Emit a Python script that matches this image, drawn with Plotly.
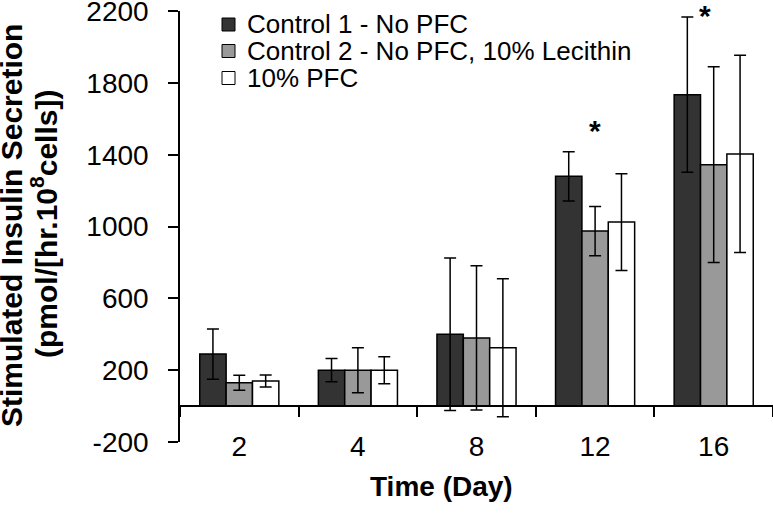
import plotly.graph_objects as go

days = ["2", "4", "8", "12", "16"]
series_names = ["Control 1 - No PFC", "Control 2 - No PFC, 10% Lecithin", "10% PFC"]
control1 = [290, 200, 400, 1280, 1735]
control1_err = [140, 65, 425, 137, 432]
control2 = [130, 200, 380, 975, 1345]
control2_err = [42, 125, 402, 137, 545]
pfc10 = [140, 200, 325, 1025, 1405]
pfc10_err = [33, 75, 385, 270, 550]
y_ticks = [-200, 200, 600, 1000, 1400, 1800, 2200]
y_ticktext = ["-200", "200", "600", "1000", "1400", "1800", "2200"]
sig_days = ["12", "16"]
sig_y = [1560, 2200]
sig_xshift = [0, -9]

colors = ["#333333", "#999999", "#ffffff"]
FONT = "Liberation Sans, Arial, sans-serif"

W, H = 773, 513
L, R, T, B = 180, 0, 11, 71
PW, PH = W - L - R, H - T - B


def px(xp):
    return (xp - L) / PW


def py(yp):
    return (H - B - yp) / PH


fig = go.Figure()
for name, vals, errs, col in zip(series_names, [control1, control2, pfc10],
                                 [control1_err, control2_err, pfc10_err], colors):
    fig.add_trace(go.Bar(
        x=days, y=vals, name=name,
        marker=dict(color=col, line=dict(color="black", width=1.5)),
        error_y=dict(type="data", array=errs, color="black", thickness=1.5, width=6),
        showlegend=False,
    ))

fig.update_layout(
    width=W, height=H,
    margin=dict(l=L, r=R, t=T, b=B, pad=0, autoexpand=False),
    paper_bgcolor="white", plot_bgcolor="white",
    barmode="group", bargap=0.333, bargroupgap=0,
    font=dict(family=FONT, color="black"),
)
fig.update_xaxes(
    type="category", range=[-0.5, len(days) - 0.5], autorange=False,
    anchor="free", position=200 / 2401, automargin=False,
    showline=True, linecolor="black", linewidth=1.5,
    ticks="outside", tickson="boundaries", ticklen=10, tickwidth=1.5, tickcolor="black",
    tickfont=dict(size=28, family=FONT, color="black"), tickangle=0,
    ticklabelstandoff=16, ticklabeloverflow="allow",
    showgrid=False, zeroline=False,
)
fig.update_yaxes(
    range=[-200, 2201], autorange=False, automargin=False,
    tickvals=y_ticks, ticktext=y_ticktext,
    showline=True, linecolor="black", linewidth=1.5,
    ticks="outside", ticklen=10, tickwidth=1.5, tickcolor="black",
    tickfont=dict(size=28, family=FONT, color="black"),
    ticklabelstandoff=14, ticklabeloverflow="allow",
    showgrid=False, zeroline=False,
)

ann = []
# axis titles
ann.append(dict(text="<b>Stimulated Insulin Secretion</b>", textangle=-90,
                xref="paper", yref="paper", x=px(12), y=py(225),
                xanchor="center", yanchor="middle", showarrow=False,
                font=dict(size=30, family=FONT, color="black")))
ann.append(dict(text="<b>(pmol/[hr.10<sup>8</sup>cells])</b>", textangle=-90,
                xref="paper", yref="paper", x=px(44), y=py(224),
                xanchor="center", yanchor="middle", showarrow=False,
                font=dict(size=30, family=FONT, color="black")))
ann.append(dict(text="<b>Time (Day)</b>",
                xref="paper", yref="paper", x=px(441), y=py(486),
                xanchor="center", yanchor="middle", showarrow=False,
                font=dict(size=28, family=FONT, color="black")))
# significance markers
for d, yv, xs in zip(sig_days, sig_y, sig_xshift):
    ann.append(dict(text="<b>*</b>", x=days.index(d), y=yv, xref="x", yref="y",
                    xshift=xs, yshift=-4, showarrow=False,
                    xanchor="center", yanchor="middle",
                    font=dict(size=30, family=FONT, color="black")))

# manual legend
shapes = []
leg_rows = [24.5, 51, 78]
for name, col, yc in zip(series_names, colors, leg_rows):
    shapes.append(dict(type="rect", xref="paper", yref="paper",
                       x0=px(222), x1=px(235), y0=py(yc + 6.5), y1=py(yc - 6.5),
                       fillcolor=col, line=dict(color="black", width=1)))
    ann.append(dict(text=name, xref="paper", yref="paper", x=px(245), y=py(yc),
                    xanchor="left", yanchor="middle", showarrow=False,
                    font=dict(size=26, family=FONT, color="black")))

fig.update_layout(annotations=ann, shapes=shapes)
fig.write_html("out.html", config={"displayModeBar": False},
               post_script="document.body.style.margin='0';document.body.style.overflow='hidden';")
